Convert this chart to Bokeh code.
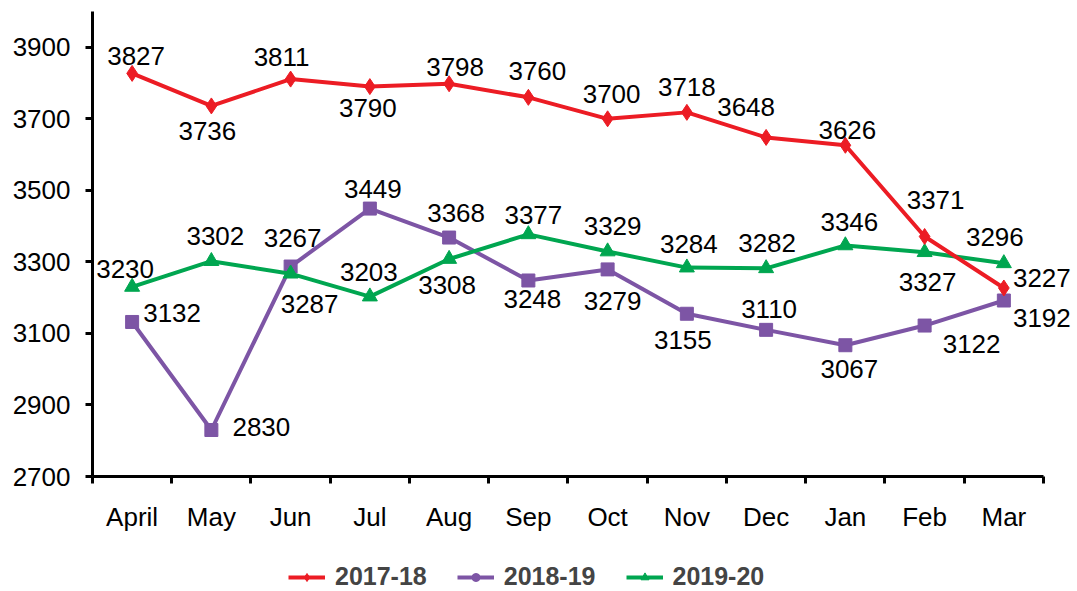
from bokeh.plotting import figure
from bokeh.layouts import column
from bokeh.models import (Range1d, FixedTicker, Legend, LegendItem, ColumnDataSource, LabelSet)
from bokeh.core.properties import value
from bokeh.embed import file_html
from bokeh.resources import INLINE

# ---- data ----
months = ["April", "May", "Jun", "Jul", "Aug", "Sep", "Oct", "Nov", "Dec", "Jan", "Feb", "Mar"]
s1718 = [3827, 3736, 3811, 3790, 3798, 3760, 3700, 3718, 3648, 3626, 3371, 3227]
s1819 = [3132, 2830, 3287, 3449, 3368, 3248, 3279, 3155, 3110, 3067, 3122, 3192]
s1920 = [3230, 3302, 3267, 3203, 3308, 3377, 3329, 3284, 3282, 3346, 3327, 3296]
y_ticks = [2700, 2900, 3100, 3300, 3500, 3700, 3900]

# ---- label offsets (screen px, +y downward) ----
off1718 = [(4, -17), (-4, 25), (-9, -22), (-2, 21), (6, -17), (9, -26), (4, -25), (0, -25),
           (-20, -30), (2, -15), (11, -36), (38, -10)]
off1819 = [(40, -9), (50, -3), (19, 37), (3, -20), (7, -25), (4, 19), (5, 32), (-4, 26),
           (3, -21), (4, 24), (47, 18), (38, 17)]
off1920 = [(-7, -18), (4, -25), (2, -36), (-1, -25), (-2, 26), (5, -19), (5, -26), (2, -24),
           (1, -25), (4, -23), (3, 30), (-9, -26)]

RED = "#EC1C24"
PURPLE = "#7D55A5"
GREEN = "#00A650"
FONT = "Liberation Sans"
FS = "26px"

n = len(months)
xs = [i + 0.5 for i in range(n)]

p = figure(width=1077, height=540, output_backend="svg", toolbar_location=None,
           x_range=Range1d(0, 12.404), y_range=Range1d(2700, 4000),
           min_border_left=92, min_border_right=2, min_border_top=11, min_border_bottom=64)
p.outline_line_color = None
p.xgrid.grid_line_color = None
p.ygrid.grid_line_color = None

# axes
p.xaxis.bounds = (0, n)
p.xaxis.ticker = FixedTicker(ticks=xs, minor_ticks=list(range(n + 1)))
p.xaxis.major_label_overrides = {x: m for x, m in zip(xs, months)}
p.xaxis.major_tick_line_color = None
p.xaxis.major_tick_out = 0
p.xaxis.major_tick_in = 0
p.xaxis.minor_tick_line_color = "black"
p.xaxis.minor_tick_line_width = 3
p.xaxis.minor_tick_out = 7
p.xaxis.minor_tick_in = 0
p.xaxis.major_label_standoff = 18

p.yaxis.ticker = FixedTicker(ticks=y_ticks, minor_ticks=[])
p.yaxis.major_tick_out = 7
p.yaxis.major_tick_in = 0
p.yaxis.major_tick_line_width = 3
p.yaxis.major_tick_line_color = "black"
p.yaxis.major_label_standoff = 15

for ax in (p.xaxis, p.yaxis):
    ax.axis_line_width = 3
    ax.axis_line_color = "black"
    ax.major_label_text_font = FONT
    ax.major_label_text_font_size = FS
    ax.major_label_text_color = "black"

sources = {}
def series(key, vals, offs, color, marker, size):
    src = ColumnDataSource(dict(x=xs, y=vals, t=[str(v) for v in vals],
                                dx=[o[0] for o in offs], dy=[-o[1] for o in offs]))
    sources[key] = src
    p.line("x", "y", source=src, line_color=color, line_width=4)
    p.scatter("x", "y", source=src, marker=marker, size=size,
              fill_color=color, line_color=color)
    labels = LabelSet(x="x", y="y", text="t", source=src, x_offset="dx", y_offset="dy",
                      text_align="center", text_baseline="middle",
                      text_font=value(FONT), text_font_size=FS, text_color="black")
    p.add_layout(labels)

series("1819", s1819, off1819, PURPLE, "square", 13)
series("1920", s1920, off1920, GREEN, "triangle", 15)
series("1718", s1718, off1718, RED, "diamond", 16)

# ---- legend strip (separate figure; its ranges keep the data itself out of view) ----
lg = figure(width=1077, height=51, output_backend="svg", toolbar_location=None,
            x_range=Range1d(0, 1), y_range=Range1d(0, 1),
            x_axis_type=None, y_axis_type=None,
            min_border_left=0, min_border_right=0, min_border_top=0, min_border_bottom=0)
lg.outline_line_color = None
lg.xgrid.grid_line_color = None
lg.ygrid.grid_line_color = None

items = []
for key, label, color, marker in [("1718", "2017-18", RED, "diamond"),
                                  ("1819", "2018-19", PURPLE, "circle"),
                                  ("1920", "2019-20", GREEN, "triangle")]:
    src = sources[key]
    l = lg.line("x", "y", source=src, line_color=color, line_width=4)
    m = lg.scatter("x", "y", source=src, marker=marker, size=10,
                   fill_color=color, line_color=color)
    items.append(LegendItem(label=label, renderers=[l, m]))

legend = Legend(items=items, orientation="horizontal", location=(196, 0))
legend.label_text_font = FONT
legend.label_text_font_style = "bold"
legend.label_text_font_size = "25px"
legend.glyph_width = 37
legend.glyph_height = 20
legend.label_standoff = 10
legend.spacing = 30
legend.padding = 0
legend.margin = 0
legend.border_line_color = None
legend.background_fill_alpha = 0
lg.add_layout(legend, "center")

layout = column(p, lg, spacing=0)
open("out.html", "w").write(file_html(layout, INLINE))
